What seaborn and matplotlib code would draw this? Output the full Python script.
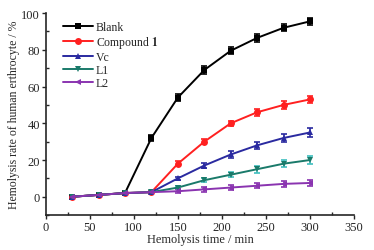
import numpy as np
import pandas as pd
import seaborn as sns
import matplotlib.pyplot as plt

# values
time = [30, 60, 90, 120, 150, 180, 210, 240, 270, 300]
blank = [0, 1, 2, 32, 54, 69, 79.5, 86.5, 92, 95.5]
compound1 = [0, 1, 2, 2.5, 18, 30, 40, 46, 50, 53]
vc = [0, 1, 2, 2.5, 10, 17, 23, 28, 32, 35]
l1 = [0, 1, 2, 2.5, 5, 9, 12, 15, 18, 20]
l2 = [0, 1, 2, 2.5, 3, 4, 5, 6, 7, 7.5]
err_blank = [0.6, 0.6, 0.6, 1.8, 2, 2, 2, 2, 2, 2]
err_comp = [0.6, 0.6, 0.6, 0.6, 1.2, 1.5, 1.5, 1.8, 2, 2]
err_vc = [0.6, 0.6, 0.6, 0.6, 1, 1.5, 1.8, 2, 2.3, 2.5]
err_l1 = [0.6, 0.6, 0.6, 0.6, 1, 1, 1.2, 2, 2, 2]
err_l2 = [0.6, 0.6, 0.6, 0.6, 1.2, 1.2, 1.2, 1.5, 1.5, 1.5]

labels = ['Blank', 'Compound $\\mathbf{1}$', 'Vc', 'L1', 'L2']
series = [blank, compound1, vc, l1, l2]
errors = [err_blank, err_comp, err_vc, err_l1, err_l2]
colors = ['#000000', '#ff2020', '#2a2aa0', '#1a7a6a', '#8a34b0']
err_colors = ['#000000', '#ff2020', '#2a2aa0', '#3fbfbf', '#8a34b0']
markers = ['s', 'o', '^', 'v', '<']

df = pd.concat([pd.DataFrame({'time': time, 'rate': s, 'group': lab})
                for s, lab in zip(series, labels)])

sns.set_style('ticks')
plt.rcParams['font.family'] = ['Liberation Serif', 'DejaVu Serif']
plt.rcParams['mathtext.fontset'] = 'stix'

fig = plt.figure(figsize=(3.74, 2.51), dpi=100)
ax = fig.add_axes([0.122, 0.139, 0.825, 0.805])

for s, err, lab, c, ec, m in zip(series, errors, labels, colors, err_colors, markers):
    ax.errorbar(time, s, yerr=err, fmt='none', ecolor=ec, elinewidth=1.2,
                capsize=2.2, capthick=1.2, zorder=2)

sns.lineplot(data=df, x='time', y='rate', hue='group', style='group',
             palette=dict(zip(labels, colors)), markers=dict(zip(labels, markers)),
             dashes=False, markersize=5, markeredgewidth=0, linewidth=1.4,
             ax=ax, zorder=3)

ax.set_xlim(0, 350)
ax.set_ylim(-10, 100)
ax.set_xticks(np.arange(0, 351, 50))
ax.set_yticks(np.arange(0, 101, 20))
ax.set_xticks(np.arange(25, 350, 50), minor=True)
ax.set_yticks(np.arange(-10, 100, 20), minor=True)
ax.tick_params(which='major', direction='out', length=3, width=1, labelsize=9, pad=1)
ax.tick_params(which='minor', direction='in', length=2, width=1)
for sp in ['top', 'right']:
    ax.spines[sp].set_visible(False)
for sp in ['left', 'bottom']:
    ax.spines[sp].set_linewidth(1.2)

ax.set_xlabel('Hemolysis time / min', fontsize=8.8, labelpad=0)
ax.set_ylabel('Hemolysis rate of human erthrocyte / %', fontsize=8.5, labelpad=1)

leg = ax.legend(loc='upper left', bbox_to_anchor=(0.03, 1.0), frameon=False,
                fontsize=8.5, handlelength=2.6, handletextpad=0.2,
                labelspacing=0.1, borderaxespad=0.25)

fig.savefig('out.png', dpi=100)
